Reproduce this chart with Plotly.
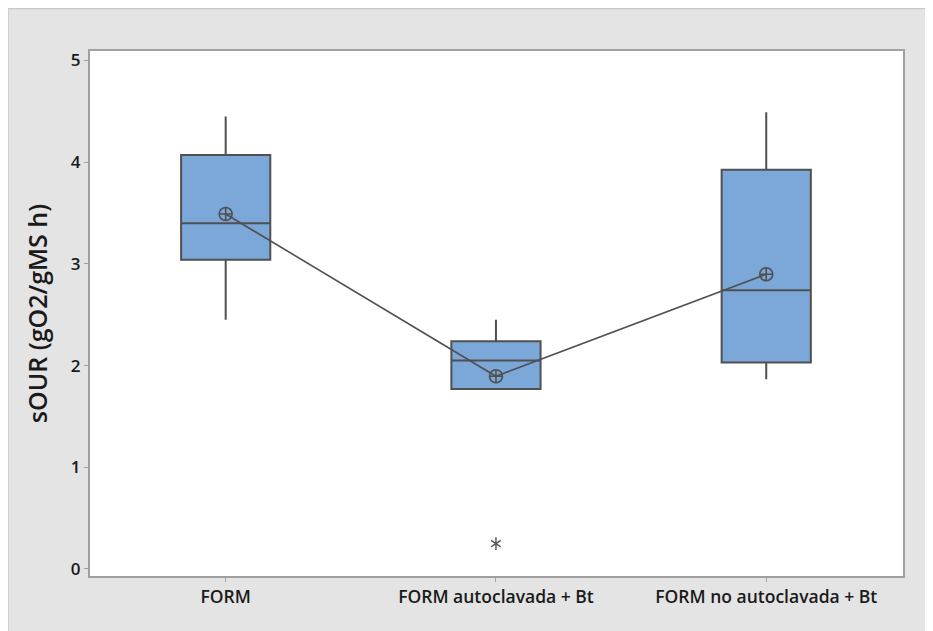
import plotly.graph_objects as go

categories = ["FORM", "FORM autoclavada + Bt", "FORM no autoclavada + Bt"]
q1 = [3.04, 1.77, 2.03]
median = [3.40, 2.05, 2.74]
q3 = [4.07, 2.24, 3.925]
lower_whisker = [2.45, 1.77, 1.866]
upper_whisker = [4.45, 2.45, 4.49]
means = [3.49, 1.895, 2.898]
outlier_cat = ["FORM autoclavada + Bt"]
outlier_val = [0.25]
y_ticks = [0, 1, 2, 3, 4, 5]

BOX_FILL = "#7BA7D9"
LINE = "#505050"
FONT = "Open Sans"

fig = go.Figure()

for i, c in enumerate(categories):
    fig.add_trace(go.Box(
        x=[c], q1=[q1[i]], median=[median[i]], q3=[q3[i]],
        lowerfence=[lower_whisker[i]], upperfence=[upper_whisker[i]],
        width=0.33, whiskerwidth=0,
        fillcolor=BOX_FILL, line=dict(color=LINE, width=2),
        showlegend=False, hoverinfo="skip",
    ))

fig.add_trace(go.Scatter(
    x=categories, y=means, mode="lines+markers",
    line=dict(color=LINE, width=1.6),
    marker=dict(symbol="circle-cross-open", size=13, color=LINE,
                line=dict(color=LINE, width=1.6)),
    showlegend=False, hoverinfo="skip",
))

# six-armed asterisk for the outlier (two overlaid Y symbols)
for sym in ["y-up-open", "y-down-open"]:
    fig.add_trace(go.Scatter(
        x=outlier_cat, y=outlier_val, mode="markers",
        marker=dict(symbol=sym, size=8, color=LINE,
                    line=dict(color=LINE, width=1.4)),
        showlegend=False, hoverinfo="skip",
    ))

fig.update_layout(
    width=933, height=631,
    margin=dict(l=82, r=38, t=43, b=63),
    paper_bgcolor="white",
    plot_bgcolor="white",
    font=dict(family=FONT, color="#1a1a1a"),
    shapes=[
        dict(type="rect", xref="paper", yref="paper", layer="below",
             x0=-0.1009, x1=1.2, y0=-0.2, y1=1.081,
             fillcolor="#e4e4e4", line=dict(color="#c8c8c8", width=1.5)),
        dict(type="rect", xref="paper", yref="paper", layer="below",
             x0=0, x1=1, y0=0, y1=1,
             fillcolor="white", line=dict(width=0)),
    ],
    xaxis=dict(
        type="category", categoryorder="array", categoryarray=categories,
        range=[-0.502, 2.506],
        showgrid=False, zeroline=False,
        showline=True, mirror=True, linecolor="#a0a0a0", linewidth=2,
        ticks="outside", ticklen=4, tickcolor="#a0a0a0", tickwidth=1,
        tickfont=dict(family=FONT, size=17.5, color="#1a1a1a", weight=600),
    ),
    yaxis=dict(
        range=[-0.069, 5.093],
        tickvals=y_ticks, ticktext=[str(v) for v in y_ticks],
        showgrid=False, zeroline=False,
        showline=True, mirror=True, linecolor="#a0a0a0", linewidth=2,
        ticks="outside", ticklen=4, tickcolor="#a0a0a0", tickwidth=1,
        tickfont=dict(family=FONT, size=17, color="#1a1a1a", weight=600),
        title=dict(text="sOUR (gO2/gMS h)", standoff=16,
                   font=dict(family=FONT, size=25, color="#1a1a1a", weight=600)),
    ),
)

fig.write_html("out.html")
